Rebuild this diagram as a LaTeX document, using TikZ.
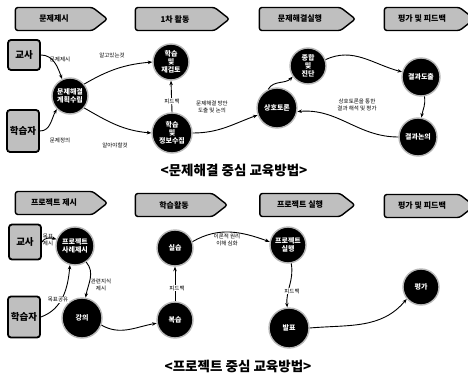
\documentclass[tikz,border=0pt]{standalone}
\usepackage{fontspec}
\setmainfont{Noto Sans CJK KR}
\usetikzlibrary{shapes.symbols}
\usetikzlibrary{arrows.meta}

\begin{document}
\begin{tikzpicture}[x=1pt, y=-1pt,
  banner/.style={signal, signal to=east, signal pointer angle=76, draw=black, line width=1.4pt,
    fill=gray!50, rounded corners=2.5pt, minimum height=23pt, inner sep=1pt,
    font=\fontsize{8}{9}\selectfont\bfseries},
  actor/.style={rectangle, draw=black, line width=1.8pt, fill=gray!50, rounded corners=3pt,
    minimum width=32pt, inner sep=0pt, font=\fontsize{9.5}{10}\selectfont\bfseries},
  stepnode/.style={circle, fill=black, draw=gray!55, line width=1.4pt, text=white, align=center,
    inner sep=0pt, font=\fontsize{7}{7.8}\selectfont\bfseries},
  lbl/.style={align=center, inner sep=0.5pt, font=\fontsize{5.5}{6.5}\selectfont},
  flow/.style={draw=black, line width=0.9pt, -{Stealth[length=4.5pt,width=3.5pt]}},
  caption/.style={font=\fontsize{13.5}{15}\selectfont\bfseries}]

\useasboundingbox (0,0) rectangle (468,377);

% top: stages
\node[banner, minimum width=92pt] (pb1) at (54,19) {문제제시};
\node[banner, minimum width=94pt] (pb2) at (175,19) {1차 활동};
\node[banner, minimum width=96pt] (pb3) at (300,19) {문제해결실행};
\node[banner, minimum width=90pt] (pb4) at (422,19) {평가 및 피드백};

% top: actors and steps
\node[actor, minimum height=30pt] (pteacher) at (24,55) {교사};
\node[actor, minimum height=42pt] (plearner) at (23,131) {학습자};
\node[stepnode, minimum size=36pt] (pplan) at (70,96) {문제해결\\계획수립};
\node[stepnode, minimum size=36pt] (preview) at (171,62) {학습\\및\\재검토};
\node[stepnode, minimum size=40pt] (pgather) at (172,133) {학습\\및\\정보수집};
\node[stepnode, minimum size=40pt] (pdiscuss) at (277,108) {상호토론};
\node[stepnode, minimum size=36pt] (pdiag) at (308,66) {종합\\및\\진단};
\node[stepnode, minimum size=38pt] (presult) at (421,77) {결과도출};
\node[stepnode, minimum size=38pt] (presdisc) at (418,137) {결과논의};

% top: connectors
\draw[flow] (pteacher.east) to[out=0, in=110] (pplan.115);
\draw[flow] (plearner.east) to[out=0, in=240] (pplan.225);
\draw[flow] (pplan.40) to[out=30, in=185] (preview.west);
\draw[flow] (pplan.-40) to[out=-30, in=175] (pgather.west);
\draw[flow] (pgather.north) -- (preview.south);
\draw[flow] (pgather.east) to[out=0, in=200] (pdiscuss.200);
\draw[flow] (pdiscuss.115) to[out=60, in=225] (pdiag.215);
\draw[flow] (pdiag.20) to[out=25, in=165] (presult.165);
\draw[flow] (presult.-80) to[out=-80, in=80] (presdisc.80);
\draw[flow] (presdisc.west) to[out=180, in=5] (pdiscuss.-10);

% top: labels
\node[lbl] (plbl1) at (60,59) {문제제시};
\node[lbl] (plbl2) at (60,140) {문제정의};
\node[lbl] (plbl3) at (112,55) {알고있는것};
\node[lbl] (plbl4) at (115,145) {알아야할것};
\node[lbl, fill=white] (plbl5) at (172,101) {피드백};
\node[lbl] (plbl6) at (212,107) {문제해결 방안\\도출 및 논의};
\node[lbl] (plbl7) at (357,105) {상호토론을 통한\\결과 해석 및 평가};
\node[caption] (pcap) at (234,170) {<문제해결 중심 교육방법>};

% bottom: stages
\node[banner, minimum width=92pt] (jb1) at (54,203) {프로젝트 제시};
\node[banner, minimum width=92pt] (jb2) at (174,205) {학습활동};
\node[banner, minimum width=95pt] (jb3) at (300,205) {프로젝트 실행};
\node[banner, minimum width=90pt] (jb4) at (422,206) {평가 및 피드백};

% bottom: actors and steps
\node[actor, minimum height=35pt] (jteacher) at (25,242) {교사};
\node[actor, minimum height=41pt] (jlearner) at (24,317) {학습자};
\node[stepnode, minimum size=38pt] (jcase) at (75,246) {프로젝트\\사례제시};
\node[stepnode, minimum size=40pt] (jlecture) at (82,318) {강의};
\node[stepnode, minimum size=36pt] (jreview) at (175,320) {복습};
\node[stepnode, minimum size=36pt] (jpractice) at (175,248) {실습};
\node[stepnode, minimum size=36pt] (jrun) at (288,245) {프로젝트\\실행};
\node[stepnode, minimum size=40pt] (jpresent) at (289,328) {발표};
\node[stepnode, minimum size=36pt] (jeval) at (421,287) {평가};

% bottom: connectors
\draw[flow] (jteacher.east) to[out=60, in=165] (jcase.160);
\draw[flow] (jlearner.east) to[out=20, in=-95] (jcase.255);
\draw[flow] (jcase.-55) to[out=-50, in=80] (jlecture.80);
\draw[flow] (jlecture.-20) to[out=-30, in=190] (jreview.190);
\draw[flow] (jreview.north) -- (jpractice.south);
\draw[flow] (jpractice.20) to[out=30, in=160] (jrun.170);
\draw[flow] (jrun.-80) to[out=-80, in=95] (jpresent.95);
\draw[flow] (jpresent.east) to[out=5, in=230] (jeval.220);

% bottom: labels
\node[lbl] (jlbl1) at (48,240) {목표\\제시};
\node[lbl, fill=white] (jlbl2) at (58,300) {목표공유};
\node[lbl] (jlbl3) at (101,285) {관련지식\\제시};
\node[lbl, fill=white] (jlbl4) at (177,288) {피드백};
\node[lbl] (jlbl5) at (227,240) {이론적 원리\\이해 심화};
\node[lbl, fill=white] (jlbl6) at (292,291) {피드백};
\node[caption] (jcap) at (238,366) {<프로젝트 중심 교육방법>};
\end{tikzpicture}
\end{document}
